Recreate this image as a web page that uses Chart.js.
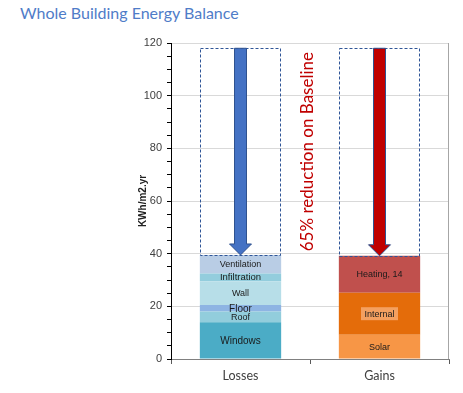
<!DOCTYPE html>
<html>
<head>
<meta charset="utf-8">
<script src="https://cdn.jsdelivr.net/npm/chart.js@4"></script>
<style>
html,body{margin:0;padding:0;background:#fff;}
#wrap{position:relative;width:463px;height:393px;}
#title{position:absolute;left:20px;top:3px;font-family:Lato,"Open Sans",sans-serif;font-weight:400;font-size:16px;color:#4F7CC8;white-space:nowrap;}
canvas{position:absolute;left:0;top:0;}
</style>
</head>
<body>
<div id="wrap">
<div id="title">Whole Building Energy Balance</div>
<canvas id="c" width="463" height="393"></canvas>
</div>
<script>
// ---- data ----
const categories = ['Losses', 'Gains'];
const lossNames  = ['Windows', 'Roof', 'Floor', 'Wall', 'Infiltration', 'Ventilation'];
const lossValues = [14, 4, 2.5, 9, 3, 7];
const gainNames  = ['Solar', 'Internal', 'Heating'];
const gainValues = [9.2, 16, 14];
const gainLabels = ['Solar', 'Internal', 'Heating, 14'];
const baseline   = [118, 118];
const yTicks     = [0, 20, 40, 60, 80, 100, 120];
const annotationText = '65% reduction on Baseline';

// ---- styles ----
const lossColors = ['#4BACC6', '#92CDDC', '#8EB4E3', '#B7DEE8', '#93CDDD', '#B9CDE5'];
const lossFont   = [10, 9, 10, 9, 9.5, 9];
const gainColors = ['#F79646', '#E46C0A', '#C0504D'];

const datasets = [];
lossNames.forEach((n, i) => datasets.push({
  label: n, data: [lossValues[i], null], backgroundColor: lossColors[i],
  stack: 's', _text: lossNames[i], _font: lossFont[i]
}));
gainNames.forEach((n, i) => datasets.push({
  label: n, data: [null, gainValues[i]], backgroundColor: gainColors[i],
  stack: 's', _text: gainLabels[i], _font: 9, _box: n === 'Internal'
}));

const totals = [lossValues.reduce((a, b) => a + b, 0), gainValues.reduce((a, b) => a + b, 0)];

const overlay = {
  id: 'overlay',
  afterDatasetsDraw(chart) {
    const ctx = chart.ctx;
    const x = chart.scales.x, y = chart.scales.y;
    const ca = chart.chartArea;
    ctx.save();
    // right border
    ctx.strokeStyle = '#A6A6A6'; ctx.lineWidth = 1;
    ctx.beginPath(); ctx.moveTo(ca.right - 0.5, ca.top); ctx.lineTo(ca.right - 0.5, ca.bottom); ctx.stroke();

    // segment labels
    chart.data.datasets.forEach((ds, di) => {
      const meta = chart.getDatasetMeta(di);
      meta.data.forEach((bar, idx) => {
        if (ds.data[idx] == null) return;
        const cy = (bar.y + bar.base) / 2;
        ctx.font = ds._font + 'px "Liberation Sans", Arial, sans-serif';
        ctx.textAlign = 'center'; ctx.textBaseline = 'middle';
        if (ds._box) {
          const w = ctx.measureText(ds._text).width + 7;
          ctx.fillStyle = '#F4A060';
          ctx.fillRect(bar.x - w / 2, cy - 6.5, w, 13);
        }
        ctx.fillStyle = '#1A1A1A';
        ctx.fillText(ds._text, bar.x, cy + 0.5);
      });
    });

    // dashed boxes and arrows
    const meta0 = chart.getDatasetMeta(0);
    categories.forEach((c, i) => {
      const bw = meta0.data[i].width;
      const cx = x.getPixelForValue(i);
      const yt = y.getPixelForValue(baseline[i]);
      const yb = y.getPixelForValue(totals[i]);
      ctx.setLineDash([3, 2]);
      ctx.strokeStyle = '#2F5597'; ctx.lineWidth = 1;
      ctx.strokeRect(Math.round(cx - bw / 2) + 0.5, Math.round(yt) + 0.5, Math.round(bw) - 1, Math.round(yb - yt));
      ctx.setLineDash([]);
      // arrow
      const sw = 6, hw = 11, hh = 11;
      ctx.beginPath();
      ctx.moveTo(cx - sw, yt);
      ctx.lineTo(cx + sw, yt);
      ctx.lineTo(cx + sw, yb - hh);
      ctx.lineTo(cx + hw, yb - hh);
      ctx.lineTo(cx, yb);
      ctx.lineTo(cx - hw, yb - hh);
      ctx.lineTo(cx - sw, yb - hh);
      ctx.closePath();
      ctx.fillStyle = i === 0 ? '#4472C4' : '#C00000';
      ctx.fill();
      ctx.strokeStyle = '#2F528F'; ctx.lineWidth = 1;
      ctx.stroke();
    });

    // rotated annotation
    const ax = x.getPixelForValue(0.5) - 2;
    const ay = y.getPixelForValue((baseline[0] + totals[0]) / 2);
    ctx.translate(ax, ay);
    ctx.rotate(-Math.PI / 2);
    ctx.font = '17px Lato, "Open Sans", sans-serif';
    ctx.fillStyle = '#C00000';
    ctx.textAlign = 'center'; ctx.textBaseline = 'middle';
    ctx.fillText(annotationText, 0, 0);
    ctx.restore();
  }
};

new Chart(document.getElementById('c'), {
  type: 'bar',
  data: { labels: categories, datasets },
  plugins: [overlay],
  options: {
    responsive: false,
    animation: false,
    layout: { padding: { top: 43, right: 14, left: 133, bottom: 0 } },
    plugins: { legend: { display: false }, tooltip: { enabled: false } },
    datasets: { bar: { categoryPercentage: 1, barPercentage: 0.585, borderWidth: 0 } },
    scales: {
      x: {
        stacked: true,
        afterFit(s) { s.height = 34; },
        grid: { offset: true, drawOnChartArea: false, tickLength: 5, color: '#595959' },
        border: { color: '#808080', width: 1 },
        ticks: { padding: 4, color: '#404040', font: { family: 'Lato, "DejaVu Sans", sans-serif', size: 12.5 } }
      },
      y: {
        stacked: true,
        min: 0, max: 120,
        afterFit(s) { s.width = 38; },
        afterBuildTicks(s) {
          const t = [];
          for (let v = 0; v <= 120; v += 5) t.push({ value: v });
          s.ticks = t;
        },
        grid: {
          tickLength: 4,
          color: (c) => (c.tick && c.tick.value % 20 === 0 && c.tick.value !== 0) ? '#D9D9D9' : 'rgba(0,0,0,0)',
          tickColor: '#000'
        },
        border: { color: '#000', width: 1 },
        ticks: {
          autoSkip: false, padding: 5, color: '#404040',
          font: { family: '"Liberation Sans", Arial, sans-serif', size: 11 },
          callback: (v) => yTicks.includes(v) ? String(v) : ''
        },
        title: {
          display: true, text: 'KWh/m2.yr', color: '#222', padding: { top: 4, bottom: 0 },
          font: { family: '"Liberation Sans", Arial, sans-serif', size: 10, weight: 'bold' }
        }
      }
    }
  }
});
</script>
</body>
</html>
